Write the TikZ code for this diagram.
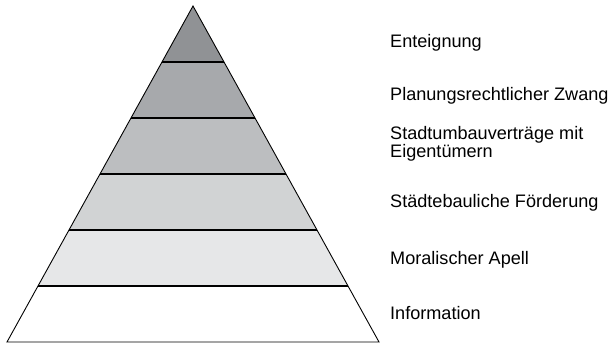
\documentclass[tikz,border=0pt]{standalone}
\usepackage{fontspec}
\setmainfont{Liberation Sans}
\usepackage{tikz}

\definecolor{layerA}{HTML}{909295}
\definecolor{layerB}{HTML}{A7A9AC}
\definecolor{layerC}{HTML}{BCBEC0}
\definecolor{layerD}{HTML}{D1D3D4}
\definecolor{layerE}{HTML}{E6E7E8}

\tikzset{
  stufe/.style={anchor=west, inner sep=0pt, align=left,
    font=\fontsize{18.1pt}{18.5pt}\selectfont}
}

\begin{document}
\begin{tikzpicture}[x=1pt,y=1pt]
            \useasboundingbox (0,0) rectangle (611,344);
            \fill[layerE] ( 38, 58) -- (348, 58) -- (317,114) -- ( 69,114) -- cycle;
            \fill[layerD] ( 69,114) -- (317,114) -- (286,170) -- (100,170) -- cycle;
            \fill[layerC] (100,170) -- (286,170) -- (255,226) -- (131,226) -- cycle;
            \fill[layerB] (131,226) -- (255,226) -- (224,282) -- (162,282) -- cycle;
            \fill[layerA] (162,282) -- (224,282) -- (193,338) -- cycle;
            \draw[line width=0.9pt] (  7,  2) -- (379,  2) -- (193,338) -- cycle;
            \draw[line width=1.3pt] ( 38, 58) -- (348, 58);
            \draw[line width=1.3pt] ( 69,114) -- (317,114);
            \draw[line width=1.3pt] (100,170) -- (286,170);
            \draw[line width=1.3pt] (131,226) -- (255,226);
            \draw[line width=1.3pt] (162,282) -- (224,282);
            \node[stufe] (enteignung) at (390,301) {Enteignung};
            \node[stufe] (zwang) at (390,248) {Planungsrechtlicher Zwang};
            \node[stufe] (vertraege) at (390,200) {Stadtumbauverträge mit\\Eigentümern};
            \node[stufe] (foerderung) at (390,141) {Städtebauliche Förderung};
            \node[stufe] (apell) at (390, 84) {Moralischer Apell};
            \node[stufe] (information) at (390, 31) {Information};
        \end{tikzpicture}
\end{document}
